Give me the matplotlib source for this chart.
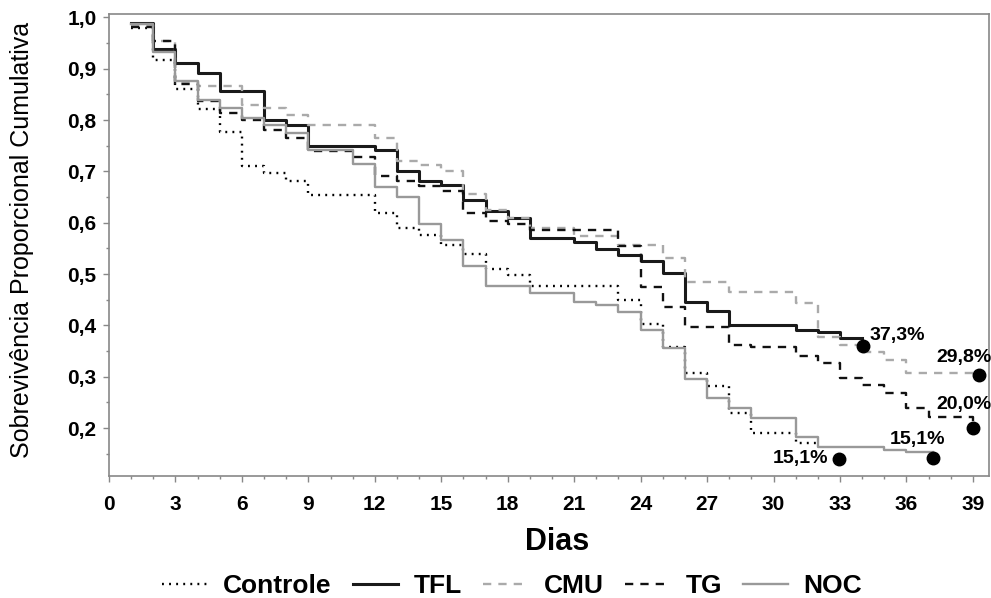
import matplotlib
matplotlib.use("Agg")
import matplotlib.pyplot as plt
from matplotlib.ticker import MultipleLocator, FuncFormatter

plt.rcParams['font.family'] = ['Liberation Sans', 'DejaVu Sans']

# Kaplan-Meier style step curves (day, survival after the step)
controle_days = [1, 2, 3, 4, 5, 6, 7, 8, 9, 12, 13, 14, 15, 16, 17, 18, 19, 23, 24, 25, 26, 27, 28, 29, 31, 32]
controle_surv = [0.98, 0.918, 0.861, 0.822, 0.776, 0.71, 0.697, 0.682, 0.655, 0.62, 0.59, 0.576, 0.556, 0.54,
                 0.51, 0.498, 0.476, 0.45, 0.402, 0.357, 0.307, 0.282, 0.23, 0.19, 0.17, 0.17]

tfl_days = [1, 2, 3, 4, 5, 7, 8, 9, 12, 13, 14, 15, 16, 17, 18, 19, 21, 22, 23, 24, 25, 26, 27, 28, 31, 32, 33, 34]
tfl_surv = [0.99, 0.938, 0.912, 0.892, 0.856, 0.80, 0.79, 0.75, 0.742, 0.70, 0.682, 0.674, 0.645, 0.622,
            0.61, 0.571, 0.562, 0.549, 0.538, 0.525, 0.502, 0.446, 0.428, 0.40, 0.392, 0.388, 0.376, 0.376]

cmu_days = [1, 2, 3, 4, 6, 7, 8, 9, 12, 13, 14, 15, 16, 17, 18, 19, 21, 23, 25, 26, 28, 31, 32, 33, 34, 35, 36, 39.3]
cmu_surv = [0.985, 0.955, 0.875, 0.866, 0.83, 0.824, 0.81, 0.79, 0.765, 0.721, 0.713, 0.70, 0.657, 0.625,
            0.61, 0.59, 0.575, 0.557, 0.532, 0.485, 0.466, 0.444, 0.378, 0.362, 0.349, 0.333, 0.307, 0.307]

tg_days = [1, 2, 3, 4, 5, 6, 7, 8, 9, 11, 12, 13, 14, 15, 16, 17, 18, 19, 23, 24, 25, 26, 28, 29, 31, 32,
           33, 34, 35, 36, 37, 39.0]
tg_surv = [0.982, 0.954, 0.871, 0.837, 0.813, 0.80, 0.781, 0.766, 0.739, 0.729, 0.692, 0.682, 0.672, 0.662,
           0.62, 0.603, 0.598, 0.586, 0.554, 0.475, 0.435, 0.397, 0.362, 0.357, 0.34, 0.327, 0.298, 0.284,
           0.268, 0.239, 0.222, 0.20]

noc_days = [1, 2, 3, 4, 5, 6, 7, 8, 9, 11, 12, 13, 14, 15, 16, 17, 19, 21, 22, 23, 24, 25, 26, 27, 28, 29,
            31, 32, 35, 36, 37.2]
noc_surv = [0.988, 0.932, 0.876, 0.84, 0.824, 0.805, 0.79, 0.775, 0.742, 0.715, 0.67, 0.651, 0.598, 0.567,
            0.515, 0.477, 0.464, 0.445, 0.44, 0.427, 0.392, 0.356, 0.295, 0.259, 0.239, 0.22, 0.183, 0.163,
            0.157, 0.153, 0.153]

# end-point markers and their labels
end_x = [32.95, 34.05, 39.3, 39.0, 37.2]
end_y = [0.139, 0.360, 0.303, 0.200, 0.141]
end_labels = ["15,1%", "37,3%", "29,8%", "20,0%", "15,1%"]
label_x = [31.2, 35.6, 38.6, 38.6, 36.5]
label_y = [0.141, 0.381, 0.338, 0.245, 0.178]

x_ticks = list(range(0, 40, 3))
y_ticks = [0.2, 0.3, 0.4, 0.5, 0.6, 0.7, 0.8, 0.9, 1.0]

fig = plt.figure(figsize=(9.91, 5.98), dpi=100)
ax = fig.add_axes([0.110, 0.204, 0.888, 0.7726])

ax.step(controle_days, controle_surv, where='post', color='black', lw=1.7, ls=(0, (0.8, 2.2)), label='Controle')
ax.step(tfl_days, tfl_surv, where='post', color='#1a1a1a', lw=2.2, label='TFL')
ax.step(cmu_days, cmu_surv, where='post', color='#aaaaaa', lw=1.7, ls=(0, (3.5, 3)), label='CMU')
ax.step(tg_days, tg_surv, where='post', color='#111111', lw=1.7, ls=(0, (3.5, 3)), label='TG')
ax.step(noc_days, noc_surv, where='post', color='#999999', lw=1.7, label='NOC')

ax.plot(end_x, end_y, 'o', color='black', ms=9, clip_on=False, zorder=5)
for lx, ly, txt in zip(label_x, label_y, end_labels):
    ax.text(lx, ly, txt, ha='center', va='center', fontsize=14, fontweight='bold', clip_on=False)

ax.set_xlim(0, 39.73)
ax.set_ylim(0.1066, 1.0068)
ax.set_xticks(x_ticks)
ax.set_yticks(y_ticks)
ax.xaxis.set_minor_locator(MultipleLocator(1))
ax.yaxis.set_minor_locator(MultipleLocator(0.05))
ax.yaxis.set_major_formatter(FuncFormatter(lambda v, p: f"{v:.1f}".replace('.', ',')))

for s in ax.spines.values():
    s.set_color('#888888')
    s.set_linewidth(1.2)

ax.tick_params(which='both', direction='out', color='#888888', width=1)
ax.tick_params(which='major', length=4)
ax.tick_params(which='minor', length=2.5)
ax.tick_params(axis='x', pad=10)
ax.tick_params(axis='y', pad=5)
for lab in ax.get_xticklabels() + ax.get_yticklabels():
    lab.set_fontsize(15)
    lab.set_fontweight('bold')

ax.set_xlabel('Dias', fontsize=22, fontweight='bold', va='center')
ax.xaxis.set_label_coords(0.509, -0.143)
ax.set_ylabel('Sobrevivência Proporcional Cumulativa', fontsize=18, va='center')
ax.yaxis.set_label_coords(-0.099, 0.511)

leg = fig.legend(loc='center', bbox_to_anchor=(0.517, 0.02), ncol=5, frameon=False,
                 prop={'size': 19, 'weight': 'bold'}, handlelength=1.7, columnspacing=0.8,
                 handletextpad=0.6, borderpad=0)

fig.savefig('out.png', dpi=100)
